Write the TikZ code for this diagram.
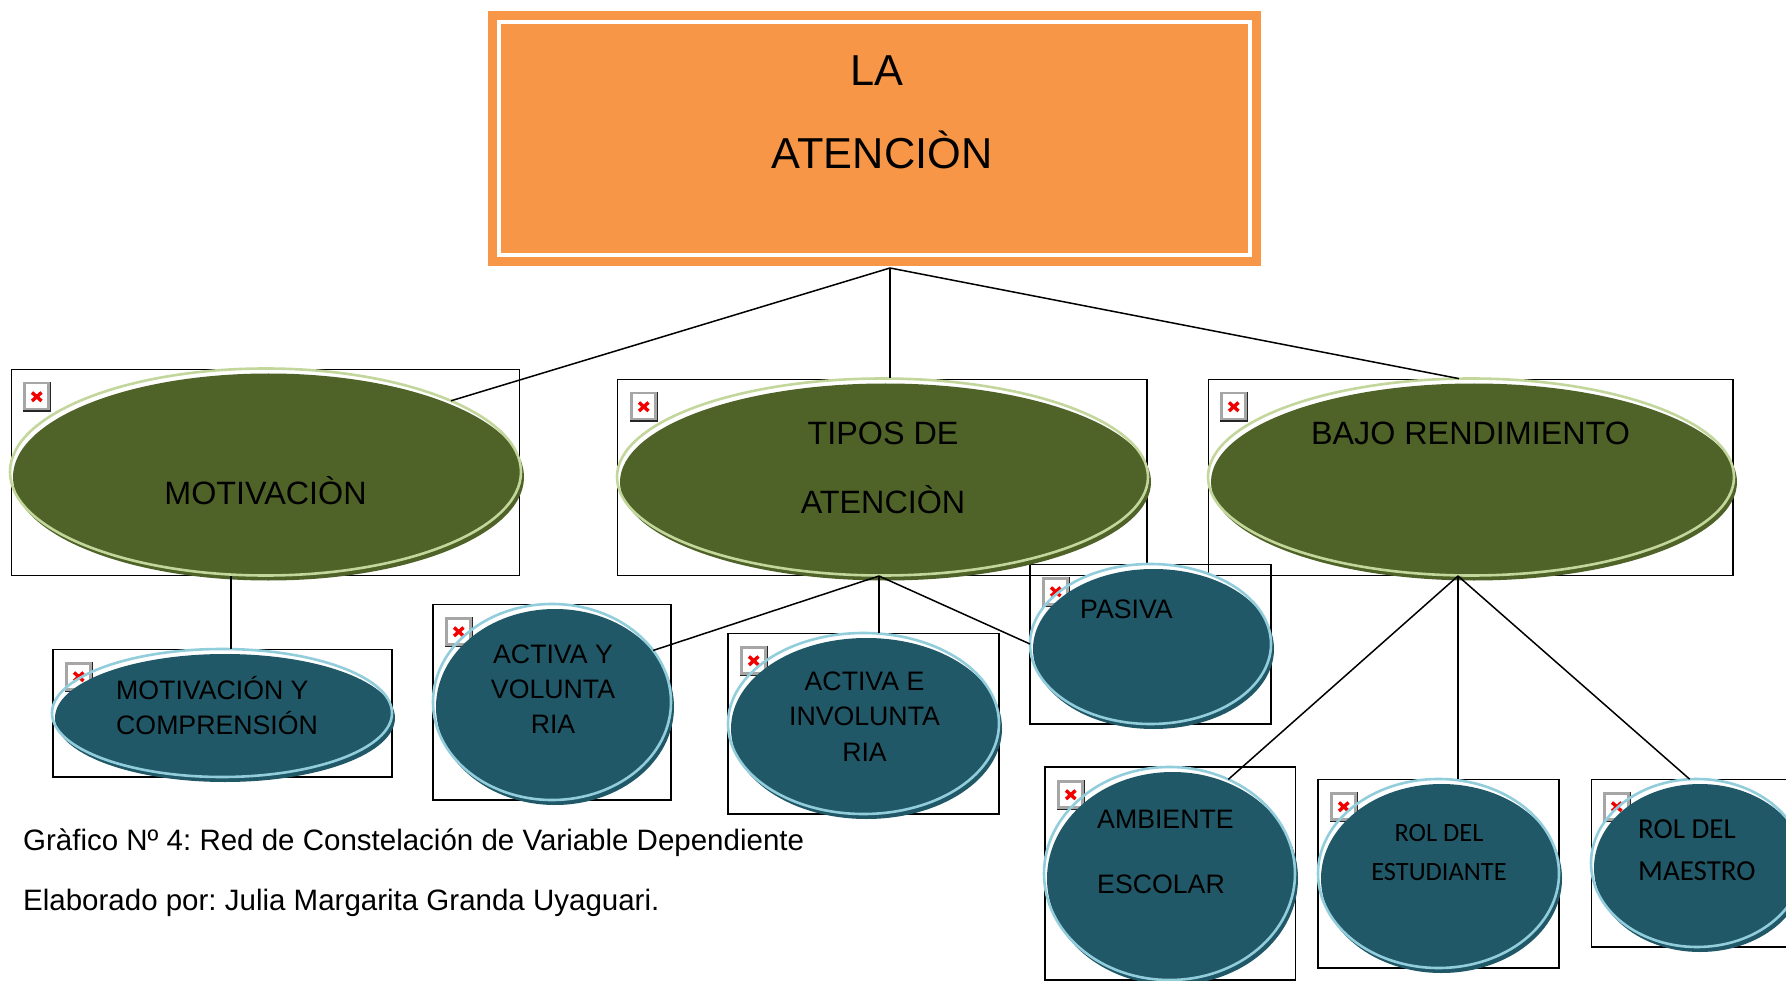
\documentclass[tikz,border=0pt]{standalone}
\usepackage{fontspec}
\setmainfont{Liberation Sans}
\newfontfamily\calfont{Carlito}
\usetikzlibrary{shapes.geometric}
\definecolor{orangeT}{HTML}{F79646}
\definecolor{greenF}{HTML}{4F6228}
\definecolor{greenL}{HTML}{C3D69B}
\definecolor{blueF}{HTML}{215868}
\definecolor{blueL}{HTML}{92CDDC}
\tikzset{
  ell/.style={ellipse,inner sep=0pt,outer sep=0pt,line width=2.6pt},
  frame/.style={draw=black,line width=1.6pt},
  link/.style={draw=black,line width=1.5pt},
  t/.style={inner sep=0pt,text=black},
  bigt/.style={t,font=\fontsize{43.3}{50}\selectfont},
  midt/.style={t,font=\fontsize{32.3}{38}\selectfont},
  smt/.style={t,font=\fontsize{26.7}{32}\selectfont},
  capt/.style={t,anchor=base west,font=\fontsize{29.5}{34}\selectfont},
  calA/.style={t,font=\calfont\fontsize{26.4}{32}\selectfont},
  calB/.style={t,font=\calfont\fontsize{29}{34}\selectfont},
}
% white ground of an ellipse: name, cx, cy, w, h
\newcommand\ovalground[5]{%
  \node[ell,minimum width=#4pt,minimum height=#5pt,fill=white] (#1) at (#2,#3) {};
}
% filled body and light rim: name, cx, cy, w, h, fill, line
\newcommand\ovalbody[7]{%
  \node[ell,minimum width=#4pt,minimum height=#5pt,fill=#6] (#1f) at (#2+3,#3+5) {};
  \node[ell,minimum width=#4pt,minimum height=#5pt,draw=#7] (#1o) at (#2,#3) {};
}
% left, top of the broken-image mark
\newcommand\brokenmark[2]{%
  \begin{scope}[shift={(#1,#2)}]
    \fill[black!85] (0,0) rectangle (28,30);
    \fill[gray!70] (0,0) rectangle (26.5,28.5);
    \fill[white] (2.5,2.5) rectangle (24,26);
    \draw[red!95!black,line width=3.4pt] (9,10.5) -- (18.5,19) (18.5,10.5) -- (9,19);
  \end{scope}
}
\begin{document}
\frenchspacing
\begin{tikzpicture}[x=1pt,y=-1pt]
\clip (0,0) rectangle (1786,981);
\fill[white] (0,0) rectangle (1786,981);
% title
\node[fill=orangeT,minimum width=773pt,minimum height=255pt,inner sep=0pt,outer sep=0pt] (title) at (874.5,138.5) {};
\node[draw=white,line width=4pt,minimum width=751pt,minimum height=233pt,inner sep=0pt,outer sep=0pt] (titleinner) at (874.5,138.5) {};
\node[bigt] (la) at (876.5,71) {LA};
\node[bigt] (at) at (882,150) {ATENCIÒN};
% frames
\draw[frame] (11.5,369.5) rectangle (519.5,575.5);
\draw[frame] (617.5,379.5) rectangle (1147,575.5);
\draw[frame] (1208.5,379.5) rectangle (1733,575.5);
\draw[frame] (53,649.5) rectangle (392,777);
\draw[frame] (433,604.5) rectangle (671,800);
\draw[frame] (728,633.5) rectangle (999,814);
\draw[frame] (1030,564.5) rectangle (1271,724);
\draw[frame] (1045,767) rectangle (1295.5,980);
\draw[frame] (1318,779.5) rectangle (1559,968);
\draw[frame] (1591.5,779.5) rectangle (1800,947);
% white grounds
\ovalground{mot}{265.5}{472}{511}{207}
\ovalground{tip}{882.5}{477}{531}{197}
\ovalground{baj}{1471}{477}{526}{197}
\ovalground{my}{222}{713}{340}{128}
\ovalground{ay}{552}{702}{238}{196}
\ovalground{ae}{863.5}{723.5}{271}{181}
\ovalground{pas}{1150.5}{644}{241}{160}
\ovalground{amb}{1169.5}{873.5}{251}{213}
\ovalground{rol}{1438.5}{873.5}{241}{189}
\ovalground{mae}{1697}{863}{212}{168}
% marks
\brokenmark{23}{382}
\brokenmark{630}{392}
\brokenmark{1220}{392}
\brokenmark{65}{662}
\brokenmark{445}{617}
\brokenmark{740}{646}
\brokenmark{1042}{577}
\brokenmark{1057}{780}
\brokenmark{1330}{792}
\brokenmark{1603}{792}
% ellipses
\ovalbody{mot}{265.5}{472}{511}{207}{greenF}{greenL}
\ovalbody{tip}{882.5}{477}{531}{197}{greenF}{greenL}
\ovalbody{baj}{1471}{477}{526}{197}{greenF}{greenL}
\ovalbody{my}{222}{713}{340}{128}{blueF}{blueL}
\ovalbody{ay}{552}{702}{238}{196}{blueF}{blueL}
\ovalbody{ae}{863.5}{723.5}{271}{181}{blueF}{blueL}
\ovalbody{pas}{1150.5}{644}{241}{160}{blueF}{blueL}
\ovalbody{amb}{1169.5}{873.5}{251}{213}{blueF}{blueL}
\ovalbody{rol}{1438.5}{873.5}{241}{189}{blueF}{blueL}
\ovalbody{mae}{1697}{863}{212}{168}{blueF}{blueL}
% connectors
\coordinate (hubT) at (890,268);
\draw[link] (hubT) -- (mot.21);
\draw[link] (hubT) -- (hubT |- tip.north);
\draw[link] (hubT) -- (baj.97);
\coordinate (hubM) at (231,576);
\draw[link] (hubM) -- (hubM |- my.north);
\coordinate (hubA) at (879,576);
\draw[link] (hubA) -- (ay.27);
\draw[link] (hubA) -- (hubA |- ae.north);
\draw[link] (hubA) -- (pas.west);
\coordinate (hubB) at (1458,576);
\draw[link] (hubB) -- (amb.58);
\draw[link] (hubB) -- (hubB |- rol.north);
\draw[link] (hubB) -- (mae.95);
% labels
\node[midt] (l1) at (265.5,490.5) {MOTIVACIÒN};
\node[midt] (l2) at (883,433) {TIPOS DE};
\node[midt] (l3) at (883,499.5) {ATENCIÒN};
\node[midt] (l4) at (1470.5,433) {BAJO RENDIMIENTO};
\node[smt,anchor=west] (l5) at (116,688) {MOTIVACIÓN Y};
\node[smt,anchor=west] (l6) at (116,723) {COMPRENSIÓN};
\node[smt] (l7) at (553,654.5) {ACTIVA Y};
\node[smt] (l8) at (553,689.5) {VOLUNTA};
\node[smt] (l9) at (553,724.5) {RIA};
\node[smt] (l10) at (864.5,681.5) {ACTIVA E};
\node[smt] (l11) at (864.5,716.5) {INVOLUNTA};
\node[smt] (l12) at (864.5,752) {RIA};
\node[smt,anchor=west] (l13) at (1080,609.5) {PASIVA};
\node[smt,anchor=west] (l14) at (1097,819.5) {AMBIENTE};
\node[smt,anchor=west] (l15) at (1097,884) {ESCOLAR};
\node[calA] (l16) at (1439,833) {ROL DEL};
\node[calA] (l17) at (1439,872) {ESTUDIANTE};
\node[calB,anchor=west] (l18) at (1638,829) {ROL DEL};
\node[calB,anchor=west] (l19) at (1638,871) {MAESTRO};
\node[capt] (c1) at (23,850) {Gràfico Nº 4: Red de Constelación de Variable Dependiente};
\node[capt] (c2) at (23,910) {Elaborado por: Julia Margarita Granda Uyaguari.};
\end{tikzpicture}
\end{document}
